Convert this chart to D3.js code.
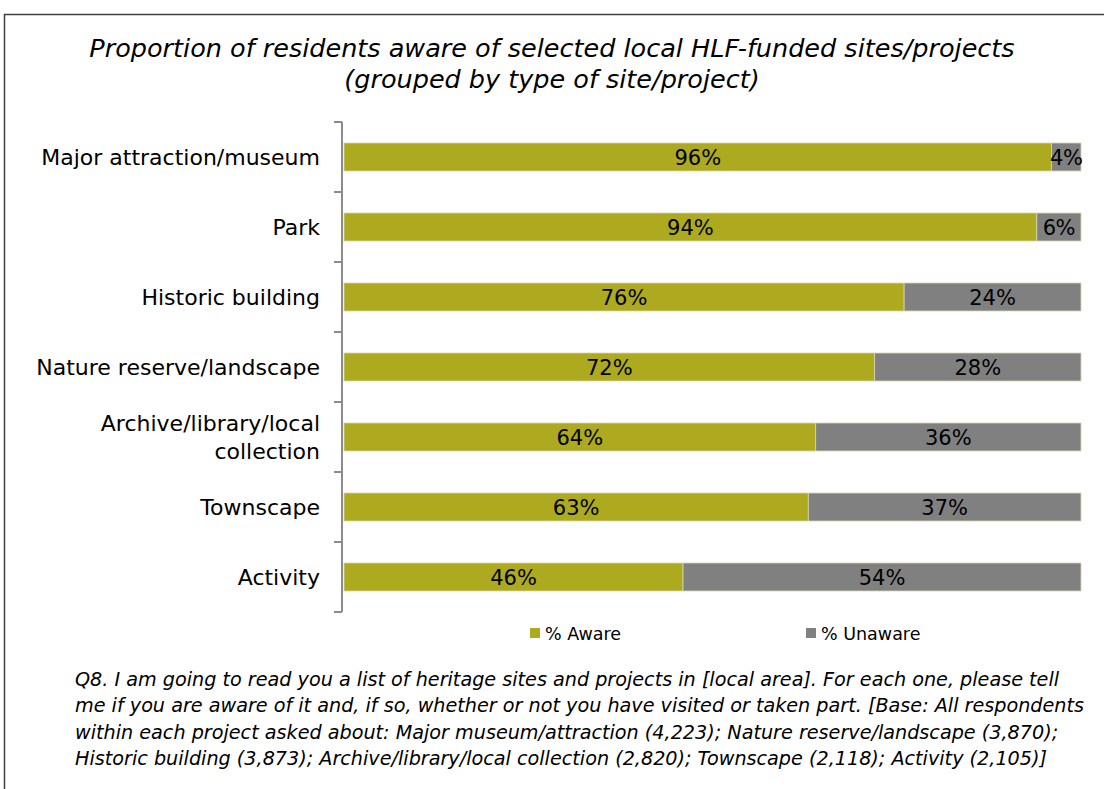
<!DOCTYPE html>
<html>
<head>
<meta charset="utf-8">
<script src="https://cdn.jsdelivr.net/npm/d3@7"></script>
<style>
  html, body { margin: 0; padding: 0; background: #fff; }
  svg { display: block; }
</style>
</head>
<body>
<svg id="chart" width="1104" height="789"></svg>
<script>
// Site / project types, top to bottom
const categories = [
  "Major attraction/museum",
  "Park",
  "Historic building",
  "Nature reserve/landscape",
  "Archive/library/local collection",
  "Townscape",
  "Activity"
];
// Category label lines (wrapped where the label is long)
const categoryLines = [
  ["Major attraction/museum"],
  ["Park"],
  ["Historic building"],
  ["Nature reserve/landscape"],
  ["Archive/library/local", "collection"],
  ["Townscape"],
  ["Activity"]
];
const aware   = [96, 94, 76, 72, 64, 63, 46];
const unaware = [4, 6, 24, 28, 36, 37, 54];
const seriesNames = ["% Aware", "% Unaware"];
const seriesColors = ["#ADAA20", "#808080"];

const titleLines = [
  "Proportion of residents aware of selected local HLF-funded sites/projects",
  "(grouped by type of site/project)"
];
const noteLines = [
  "Q8. I am going to read you a list of heritage sites and projects in [local area]. For each one, please tell",
  "me if you are aware of it and, if so, whether or not you have visited or taken part. [Base: All respondents",
  "within each project asked about: Major museum/attraction (4,223); Nature reserve/landscape (3,870);",
  "Historic building (3,873); Archive/library/local collection (2,820); Townscape (2,118); Activity (2,105)]"
];

const svg = d3.select("#chart");
const labelFont = "'DejaVu Sans', sans-serif";
const titleFont = "'DejaVu Sans', sans-serif";

// Outer frame
svg.append("rect")
  .attr("x", 4.5).attr("y", 14.5)
  .attr("width", 1110).attr("height", 800)
  .attr("fill", "none").attr("stroke", "#404040").attr("stroke-width", 1.5);

// Title
svg.append("g").selectAll("text")
  .data(titleLines).join("text")
  .attr("x", 552).attr("y", (d, i) => 57 + i * 31)
  .attr("text-anchor", "middle")
  .attr("font-family", titleFont)
  .attr("font-style", "italic")
  .attr("font-size", 25.5)
  .attr("fill", "#000")
  .text(d => d);

// Scales
const x = d3.scaleLinear().domain([0, 100]).range([344, 1081]);
const y = d3.scaleBand().domain(categories).range([122, 612]).paddingInner(0.6).paddingOuter(0.3);

const rows = categories.map((c, i) => ({ cat: c, lines: categoryLines[i], values: [aware[i], unaware[i]] }));
const stack = rows.map(r => {
  let acc = 0;
  return r.values.map((v, k) => { const s = { cat: r.cat, k, v, x0: acc, x1: acc + v }; acc += v; return s; });
}).flat();

// Bars
svg.append("g").selectAll("rect")
  .data(stack).join("rect")
  .attr("x", d => x(d.x0))
  .attr("y", d => y(d.cat))
  .attr("width", d => x(d.x1) - x(d.x0))
  .attr("height", y.bandwidth())
  .attr("fill", d => seriesColors[d.k])
  .attr("stroke", "#d8d6b0")
  .attr("stroke-width", 0.8);

// Value labels
svg.append("g").selectAll("text")
  .data(stack).join("text")
  .attr("x", d => (x(d.x0) + x(d.x1)) / 2)
  .attr("y", d => y(d.cat) + y.bandwidth() / 2 + 8)
  .attr("text-anchor", "middle")
  .attr("font-family", labelFont)
  .attr("font-size", 21)
  .attr("letter-spacing", d => d.v < 10 ? -0.5 : 0)
  .attr("fill", "#000")
  .text(d => d.v + "%");

// Category axis with boundary ticks
const axisX = 342;
const axisG = svg.append("g");
axisG.append("line")
  .attr("x1", axisX).attr("x2", axisX)
  .attr("y1", 122).attr("y2", 612)
  .attr("stroke", "#8c8c8c").attr("stroke-width", 2);
const bounds = d3.range(categories.length + 1).map(i => 122 + i * (490 / categories.length));
axisG.selectAll("line.tick")
  .data(bounds).join("line")
  .attr("class", "tick")
  .attr("x1", axisX - 8).attr("x2", axisX)
  .attr("y1", d => d).attr("y2", d => d)
  .attr("stroke", "#8c8c8c").attr("stroke-width", 2);

// Category labels
const catG = svg.append("g").selectAll("text")
  .data(rows).join("text")
  .attr("text-anchor", "end")
  .attr("font-family", labelFont)
  .attr("font-size", 22)
  .attr("fill", "#000");
catG.each(function(d) {
  const n = d.lines.length;
  const cy = y(d.cat) + y.bandwidth() / 2;
  d3.select(this).selectAll("tspan")
    .data(d.lines).join("tspan")
    .attr("x", 320)
    .attr("y", (t, i) => cy + 8 + (i - (n - 1) / 2) * 28)
    .text(t => t);
});

// Legend
const legendX = [530, 806];
const legend = svg.append("g").selectAll("g")
  .data(seriesNames).join("g")
  .attr("transform", (d, i) => `translate(${legendX[i]},628)`);
legend.append("rect")
  .attr("width", 10).attr("height", 10)
  .attr("fill", (d, i) => seriesColors[i]);
legend.append("text")
  .attr("x", 15).attr("y", 12)
  .attr("font-family", labelFont)
  .attr("font-size", 17.5)
  .attr("fill", "#000")
  .text(d => d);

// Footnote
svg.append("g").selectAll("text")
  .data(noteLines).join("text")
  .attr("x", 75).attr("y", (d, i) => 686 + i * 26.3)
  .attr("font-family", titleFont)
  .attr("font-style", "italic")
  .attr("font-size", 19.2)
  .attr("fill", "#000")
  .text(d => d);
</script>
</body>
</html>
